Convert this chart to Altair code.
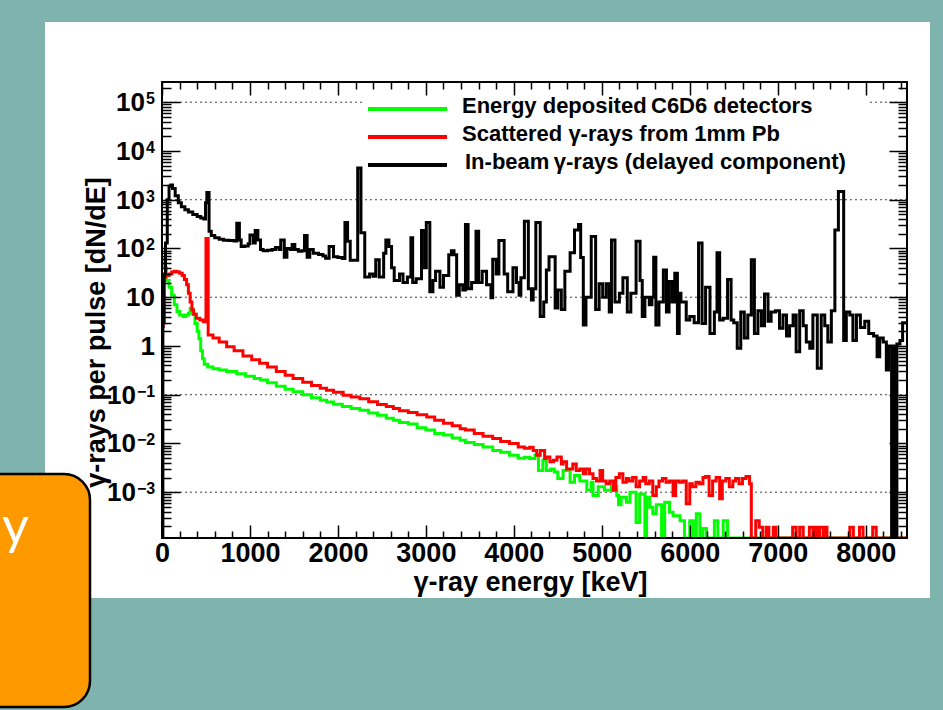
import altair as alt
import pandas as pd

# ---------------- data ----------------
YMIN, YMAX = 1.15e-4, 2.6e5
XMAX = 8470

series_names = ["Energy deposited\u2009C6D6 detectors",
                "Scattered \u03b3-rays from 1mm Pb",
                "In-beam\u2009\u03b3-rays (delayed component)"]
series_colors = ["#00ff00", "#ff0000", "#000000"]

green_e = [0, 20, 50, 80, 110, 140, 170, 200, 240, 270, 300, 320, 350, 375, 400, 420, 440, 460, 480, 520,
           580, 650, 735, 850, 950, 1050, 1120, 1200, 1300, 1400, 1490, 1600, 1700, 1800, 1870, 1950, 2050,
           2150, 2250, 2350, 2450, 2550, 2630, 2700, 2800, 2900, 3000, 3100, 3200, 3300, 3390, 3450, 3550,
           3650, 3760, 3850, 3950, 4050, 4120, 4180, 4240, 4280, 4330, 4370, 4420, 4460, 4500, 4560, 4640,
           4690, 4750, 4830, 4880, 4900, 4960, 5030, 5110, 5170, 5190, 5220, 5280, 5320, 5390, 5430, 5490,
           5510, 5545, 5580, 5620, 5680, 5715, 5770, 5810, 5890, 5940, 6000, 6040, 6075, 6115, 6150, 6190,
           6280, 6320, 6380, 6430, 8470]
green_v = [60, 40, 22, 16, 11, 7, 5.1, 4.3, 4.0, 4.3, 4.7, 5.9, 4.5, 2.9, 2.0, 1.4, 0.8, 0.55, 0.42, 0.37,
           0.34, 0.32, 0.30, 0.27, 0.24, 0.215, 0.2, 0.175, 0.15, 0.13, 0.115, 0.1, 0.087, 0.077, 0.071, 0.064,
           0.057, 0.052, 0.048, 0.042, 0.038, 0.033, 0.030, 0.027, 0.025, 0.021, 0.019, 0.016, 0.015, 0.013,
           0.0116, 0.0105, 0.0095, 0.0085, 0.0072, 0.0066, 0.0057, 0.0050, 0.0052, 0.0049, 0.0057, 0.0028,
           0.0045, 0.0028, 0.0030, 0.0026, 0.0019, 0.0028, 0.0016, 0.0022, 0.0017, 0.0011, 0.0016, 0.00086,
           0.0013, 0.0011, 0.0013, 0.00086, 0.00055, 0.00079, 0.00062, 0.0010, 0.00024, 0.00092, 0,
           0.00079, 0.00049, 0.00036, 0.00055, 0, 0.00062, 0.00039, 0.00033, 0.00026, 0, 0.00026, 0,
           0.00036, 0, 0.00018, 0, 0.00026, 0, 0.00026, 0, 0]

red_e = [0, 15, 40, 80, 110, 140, 170, 200, 230, 255, 280, 300, 320, 340, 360, 390, 430, 470, 500, 525,
         580, 650, 735, 820, 920, 1020, 1110, 1200, 1300, 1400, 1490, 1600, 1700, 1800, 1870, 1950, 2060,
         2150, 2250, 2350, 2450, 2550, 2630, 2700, 2800, 2900, 3010, 3100, 3200, 3300, 3390, 3450, 3550,
         3650, 3760, 3850, 3950, 4050, 4120, 4180, 4220, 4260, 4300, 4350, 4370, 4410, 4450, 4490, 4540,
         4560, 4600, 4640, 4670, 4710, 4750, 4790, 4820, 4860, 4900, 4940, 4980, 5010, 5050, 5090, 5130,
         5160, 5200, 5240, 5280, 5310, 5350, 5390, 5430, 5470, 5500, 5540, 5580, 5620, 5650, 5690, 5730,
         5770, 5810, 5840, 5880, 5920, 5960, 6000, 6030, 6070, 6110, 6150, 6180, 6220, 6260, 6300, 6340,
         6370, 6410, 6450, 6490, 6520, 6560, 6600, 6640, 6680, 6700, 6750, 6790, 6830, 6870, 6900, 6950,
         6980, 7170, 7210, 7250, 7290, 7360, 7400, 7420, 7450, 7480, 7520, 7540, 7560, 7820, 7860, 7930,
         7970, 8080, 8120, 8470]
red_v = [2.5, 26, 28, 30, 33, 34, 33, 31, 28, 23, 18, 12, 8, 5.5, 4.5, 3.7, 3.4, 3.15, 160, 1.67,
         1.45, 1.2, 0.96, 0.8, 0.62, 0.52, 0.44, 0.37, 0.3, 0.25, 0.215, 0.18, 0.155, 0.135, 0.124, 0.112,
         0.098, 0.09, 0.083, 0.072, 0.063, 0.057, 0.052, 0.047, 0.043, 0.039, 0.035, 0.030, 0.026, 0.023,
         0.020, 0.019, 0.016, 0.014, 0.0126, 0.011, 0.010, 0.0085, 0.0080, 0.0084, 0.0072, 0.0057, 0.0072,
         0.0049, 0.0053, 0.0042, 0.0045, 0.0053, 0.0038, 0.0042, 0.0030, 0.0030, 0.0038, 0.0028, 0.0030,
         0.0024, 0.0030, 0.0024, 0.0019, 0.0017, 0.0028, 0.0017, 0.0015, 0.0017, 0.0011, 0.0020, 0.0024,
         0.0016, 0.0019, 0.0017, 0.0020, 0.0013, 0.0017, 0.0020, 0.0015, 0.0017, 0.00086, 0.0013, 0.0017,
         0.0019, 0.0016, 0.0017, 0.00086, 0.0017, 0.0016, 0.0017, 0.00058, 0.0015, 0.0013, 0.0016, 0.0015,
         0.0020, 0.0021, 0.00086, 0.0017, 0.0020, 0.00073, 0.0017, 0.0019, 0.0013, 0.0017, 0.0019, 0.0015,
         0.0019, 0.0021, 0.0015, 0, 0.00026, 0.00019, 0, 0.00019, 0, 0.00019, 0, 0.00019, 0, 0.00019, 0,
         0.00019, 0, 0.00019, 0, 0.00019, 0, 0.00019, 0, 0.00019, 0, 0.00019, 0, 0.00019, 0, 0]

black_e = [0, 10, 25, 40, 60, 80, 100, 120, 150, 185, 220, 260, 300, 350, 400, 440, 475, 495, 510, 535,
           560, 600, 650, 700, 760, 820, 850, 880, 900, 940, 980, 1000, 1040, 1060, 1090, 1120, 1150, 1200,
           1250, 1290, 1330, 1350, 1390, 1420, 1460, 1480, 1510, 1550, 1590, 1620, 1650, 1680, 1720, 1780,
           1830, 1860, 1900, 1950, 2000, 2050, 2080, 2110, 2140, 2225, 2262, 2305, 2360, 2400, 2430, 2470,
           2520, 2545, 2580, 2610, 2640, 2700, 2740, 2790, 2830, 2850, 2890, 2950, 2985, 3005, 3045, 3080,
           3110, 3160, 3200, 3260, 3290, 3320, 3350, 3380, 3420, 3450, 3480, 3520, 3570, 3600, 3640, 3690,
           3740, 3760, 3800, 3830, 3890, 3930, 3990, 4030, 4060, 4080, 4120, 4165, 4200, 4220, 4250, 4300,
           4340, 4370, 4400, 4470, 4500, 4540, 4580, 4640, 4690, 4735, 4760, 4790, 4820, 4880, 4930, 4970,
           5010, 5050, 5085, 5110, 5150, 5200, 5240, 5290, 5330, 5390, 5435, 5460, 5490, 5540, 5570, 5590,
           5615, 5650, 5700, 5735, 5765, 5800, 5830, 5860, 5880, 5900, 5960, 6000, 6050, 6100, 6140, 6180,
           6230, 6280, 6310, 6340, 6380, 6430, 6470, 6500, 6540, 6580, 6620, 6660, 6700, 6735, 6775, 6815,
           6850, 6890, 6925, 6975, 7020, 7060, 7100, 7135, 7175, 7210, 7250, 7290, 7325, 7365, 7400, 7450,
           7495, 7535, 7570, 7610, 7650, 7690, 7750, 7780, 7820, 7855, 7895, 7940, 7990, 8035, 8090, 8130,
           8160, 8200, 8235, 8260, 8295, 8310, 8340, 8355, 8390, 8420, 8470]
black_v = [0, 3, 30, 130, 1000, 1900, 2000, 1700, 1200, 870, 720, 620, 560, 500, 455, 420, 400, 870, 1400,
           225, 185, 165, 155, 148, 146, 142, 330, 150, 110, 112, 125, 190, 130, 235, 150, 95, 90, 92, 95,
           105, 95, 150, 66, 100, 95, 120, 95, 88, 90, 185, 66, 95, 80, 75, 70, 63, 110, 68, 65, 62, 340,
           140, 57, 4500, 210, 26, 30, 27, 59, 26, 80, 150, 110, 40, 22, 30, 20, 26, 165, 20, 24, 235, 40,
           340, 13, 22, 34, 16, 28, 74, 90, 74, 11, 18, 14, 310, 15, 20, 225, 20, 34, 18, 9.7, 60, 30, 146,
           30, 13, 40, 20, 11, 25, 360, 15, 8.8, 15, 340, 4, 8, 36, 68, 6, 14, 5.6, 34, 82, 240, 310, 65,
           2.7, 10, 176, 5.6, 19, 10, 19, 5, 150, 8, 12, 25, 5, 12, 140, 22, 4, 10, 7, 10, 66, 2.7, 8, 36,
           5, 21, 8, 31, 1.8, 12, 8, 3.4, 4, 3, 130, 2.9, 16, 1.8, 5, 82, 3.4, 3.7, 23, 3.4, 3, 0.9, 5,
           1.46, 4.3, 59, 1.8, 5.3, 2.6, 11.7, 3.2, 5, 5.3, 2.3, 4.3, 1.6, 2.6, 4.3, 0.76, 5.3, 2.6, 1.2,
           0.9, 4.3, 0.35, 4.3, 2.6, 1.2, 5.3, 240, 1480, 1.3, 5, 4.3, 1.3, 4.3, 2.4, 3.2, 1.8, 1.6, 0.6,
           1.45, 1.2, 0.32, 1.0, 0, 1.0, 0, 1.1, 1.3, 3, 3]

x_tick_values = [0, 1000, 2000, 3000, 4000, 5000, 6000, 7000, 8000]
y_tick_values = [1e-3, 1e-2, 1e-1, 1, 10, 100, 1e3, 1e4, 1e5]
y_tick_base = ["10", "10", "10", "1", "10", "10", "10", "10", "10"]
y_tick_exp = ["\u22123", "\u22122", "\u22121", "", "", "2", "3", "4", "5"]
grid_values = [1e5, 1e3, 10, 1e-1, 1e-3]

# ---------------- layout constants ----------------
W, H = 745, 456
FONT = "Liberation Sans"


def hist_frame(e, v):
    # empty bins are drawn on the bottom edge of the log axis
    return pd.DataFrame({"E": e, "v": [max(val, YMIN) for val in v]})


green_df = hist_frame(green_e, green_v)
red_df = hist_frame(red_e, red_v)
black_df = hist_frame(black_e, black_v)
one = pd.DataFrame({"a": [0]})

ylab_df = pd.DataFrame({"v": y_tick_values, "base": y_tick_base, "exp": y_tick_exp})
ylab_df["grp"] = ["neg" if s.startswith("\u2212") else ("pos" if s else "none") for s in y_tick_exp]

xscale = alt.Scale(domain=[0, XMAX], nice=False, zero=False)
yscale = alt.Scale(type="log", domain=[YMIN, YMAX], nice=False)

x_minor = [v for v in range(0, XMAX, 200) if v % 1000 != 0]
y_minor = [m * 10.0 ** k for k in range(-4, 6) for m in range(2, 10) if YMIN < m * 10.0 ** k < YMAX]
y_major = [10.0 ** k for k in range(-3, 6)]

x_label_axis = alt.Axis(orient="bottom", values=x_tick_values, format="d", ticks=False, domain=False,
                        grid=False, labelFont=FONT, labelFontSize=27, labelFontWeight="bold",
                        labelColor="black", labelPadding=2, labelFlush=False, labelOverlap=False,
                        title="\u03b3-ray energy [keV]", titleFont=FONT, titleFontSize=27,
                        titleFontWeight="bold", titleColor="black", titleX=368, titleY=44,
                        titleAlign="center", titleBaseline="middle", zindex=1)
y_label_axis = alt.Axis(orient="left", values=y_tick_values, ticks=False, labels=False,
                        domain=False, grid=False,
                        title="\u03b3-rays per pulse [dN/dE]", titleFont=FONT, titleFontSize=27,
                        titleFontWeight="bold", titleColor="black", titleAngle=270, titleX=-66,
                        titleY=250, titleAlign="center", titleBaseline="middle", zindex=1)


def tick_axis(orient, offset, values, size):
    return alt.Axis(orient=orient, offset=offset, values=values, tickSize=size, ticks=True,
                    labels=False, domain=False, grid=False, title=None, tickColor="black",
                    tickWidth=1.5, zindex=1)


def line_layer(df, color, xaxis, yaxis):
    return alt.Chart(df).mark_line(interpolate="step-after", color=color, strokeWidth=3,
                                   strokeJoin="miter", clip=True).encode(
        x=alt.X("E:Q", scale=xscale, axis=xaxis),
        y=alt.Y("v:Q", scale=yscale, axis=yaxis))


def helper_layer(xaxis, yaxis):
    return alt.Chart(black_df).mark_point(opacity=0).encode(
        x=alt.X("E:Q", scale=xscale, axis=xaxis),
        y=alt.Y("v:Q", scale=yscale, axis=yaxis))


def px_rect(x, x2, y, y2, **kw):
    return alt.Chart(one).mark_rect(**kw).encode(
        x=alt.value(x), x2=alt.value(x2), y=alt.value(y), y2=alt.value(y2))


# y tick labels: "10" with a raised exponent, as ROOT draws them
base_x = {"neg": -26, "pos": -17, "none": -7}
ylabel_layers = []
for grp, bx in base_x.items():
    ylabel_layers.append(
        alt.Chart(ylab_df).transform_filter(alt.datum.grp == grp).mark_text(
            align="right", baseline="middle", font=FONT, fontSize=26, fontWeight="bold",
            color="black", dy=1).encode(
            x=alt.value(bx), y=alt.Y("v:Q", scale=yscale, axis=None), text="base:N"))
    if grp != "none":
        ylabel_layers.append(
            alt.Chart(ylab_df).transform_filter(alt.datum.grp == grp).mark_text(
                align="left", baseline="middle", font=FONT, fontSize=16, fontWeight="bold",
                color="black", dy=-3).encode(
                x=alt.value(bx + 1), y=alt.Y("v:Q", scale=yscale, axis=None), text="exp:N"))

panel = px_rect(-117, 768, -60, 516, color="white")
orange = px_rect(-200, -72, 392, 625, fill="#ff9900", stroke="black", strokeWidth=2.5, cornerRadius=26)
orange_text = alt.Chart(one).mark_text(align="left", baseline="alphabetic", font="Lato", fontSize=52,
                                       color="white").encode(
    x=alt.value(-160), y=alt.value(462), text=alt.value("y"))

grid = alt.Chart(pd.DataFrame({"g": grid_values})).mark_rule(
    color="#444444", strokeDash=[2, 3], strokeWidth=1).encode(
    y=alt.Y("g:Q", scale=yscale, axis=None))

green_line = line_layer(green_df, series_colors[0], x_label_axis, y_label_axis)
red_line = line_layer(red_df, series_colors[1],
                      tick_axis("top", -H, x_tick_values, 13), tick_axis("right", -W, y_major, 18))
black_line = line_layer(black_df, series_colors[2],
                        tick_axis("top", -H, x_minor, 7), tick_axis("right", -W, y_minor, 9))
help1 = helper_layer(tick_axis("bottom", -H, x_tick_values, 13), tick_axis("left", -W, y_major, 18))
help2 = helper_layer(tick_axis("bottom", -H, x_minor, 7), tick_axis("left", -W, y_minor, 9))

frame = px_rect(0, W, 0, H, filled=False, stroke="black", strokeWidth=2)

legend_box = px_rect(203, 706, 6, 98, color="white")
legend_rows = [27, 55, 83]
legend_text_x = [300, 300, 303]
legend_layers = []
for i, name in enumerate(series_names):
    legend_layers.append(alt.Chart(one).mark_rule(color=series_colors[i], strokeWidth=4).encode(
        x=alt.value(206), x2=alt.value(285), y=alt.value(legend_rows[i])))
    legend_layers.append(alt.Chart(one).mark_text(align="left", baseline="middle", font=FONT,
                                                  fontSize=22, fontWeight="bold", color="black").encode(
        x=alt.value(legend_text_x[i]), y=alt.value(legend_rows[i] - 3), text=alt.value(name)))

chart = alt.layer(
    panel, orange, orange_text, grid, green_line, red_line, black_line, frame,
    legend_box, *legend_layers, *ylabel_layers, help1, help2
).resolve_axis(x="independent", y="independent").properties(
    width=W, height=H,
    padding={"left": 162, "top": 82, "right": 36, "bottom": 172},
    autosize=alt.AutoSizeParams(type="none"),
    background="#7fb3ae",
).configure_view(stroke=None)

chart.save("out.html", embed_options={"renderer": "svg", "actions": False})
